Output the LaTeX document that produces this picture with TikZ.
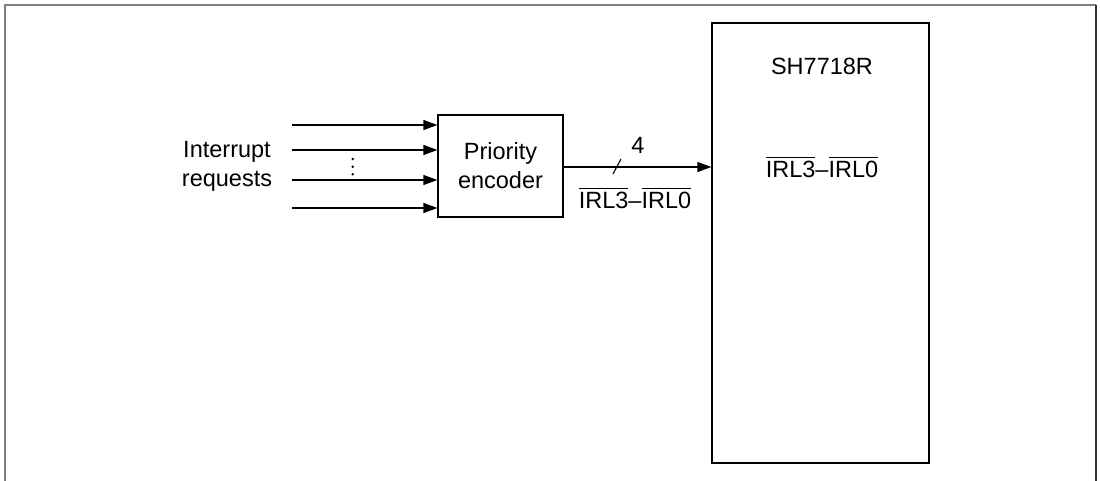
\documentclass[tikz,border=0pt]{standalone}
\usepackage{fontspec}
\setmainfont{Liberation Sans}
\usepackage{amsmath}
\usetikzlibrary{arrows.meta}

\newcommand{\irlbus}{$\overline{\mbox{IRL3}}$–$\overline{\mbox{IRL0}}$}

\begin{document}
\begin{tikzpicture}[x=1pt,y=-1pt,
		font=\fontsize{23.5}{29}\selectfont,
		every node/.style={inner sep=0pt},
		block/.style={draw,line width=1.3pt},
		arr/.style={line width=1.3pt,-{Triangle[length=14pt,width=10pt]}}]
			\useasboundingbox (0,0) rectangle (1100,481);
			% frame
			\draw[gray,line width=2pt] (4.5,481) -- (4.5,5.5) -- (1096,5.5);
			\draw[black!80,line width=2pt] (1096,5.5) -- (1096,481);
			% blocks
			\node[block,minimum width=125pt,minimum height=102pt,align=center] (enc) at (500.5,166) {Priority\\encoder};
			\node[block,minimum width=217pt,minimum height=440pt] (cpu) at (820.5,243) {};
			\node (cpuname) at (822,66) {SH7718R};
			\node (cpuirl) at (822,167) {\irlbus};
			% interrupt inputs
			\node[align=center] (irq) at (227,166) {Interrupt\\requests};
			\foreach \i/\y in {1/125,2/150,3/180,4/208}{
				\coordinate (in\i) at (292,\y);
				\draw[arr] (in\i) -- (in\i -| enc.west);
			}
			\foreach \y in {159,166.7,174.3}
				\fill (352.7,\y) circle (1.4);
			% bus to the cpu
			\draw[arr] (enc.east |- 0,167) -- (cpu.west |- 0,167);
			\coordinate (bus) at (617,167);
			\draw[line width=1.1pt] (bus) +(-4,7) -- +(4,-8);
			\node (buswidth) at (638,145) {4};
			\node (busname) at (635,198) {\irlbus};
		\end{tikzpicture}
\end{document}
